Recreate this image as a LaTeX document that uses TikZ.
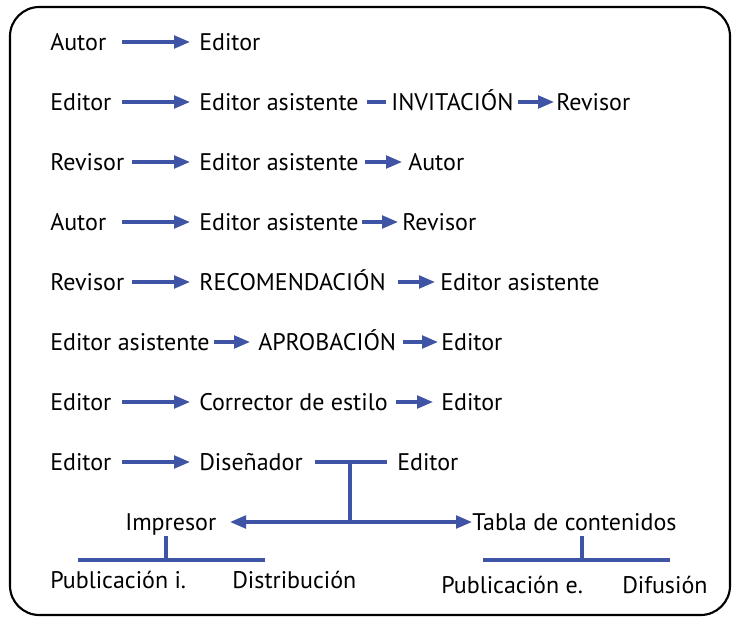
\documentclass[tikz,border=0pt]{standalone}
\usepackage{fontspec}
\setmainfont{PT Sans}
\usetikzlibrary{arrows.meta,calc}
\definecolor{arrowblue}{RGB}{63,84,164}
\tikzset{
  txt/.style={inner sep=0pt, anchor=west, text height=12.5pt, text depth=0pt, font=\fontsize{18}{20}\selectfont},
  arr/.style={draw=arrowblue, line width=2.4pt, -{Triangle[length=12pt,width=9.5pt]}},
  ln/.style={draw=arrowblue, line width=2.4pt},
}
\begin{document}
\begin{tikzpicture}[x=0.75pt,y=-0.75pt]
\useasboundingbox (0,0) rectangle (742,624);
\draw[line width=1.6pt, rounded corners=22pt] (10,7) rectangle (730,615);
% row 1
\node[txt] (a1) at (50,42) {Autor};
\node[txt] (b1) at (199,42) {Editor};
\draw[arr] ($(b1.west)+(-77,0)$) -- ($(b1.west)+(-9,0)$);
% row 2
\node[txt] (a2) at (50,102) {Editor};
\node[txt] (b2) at (199,102) {Editor asistente};
\node[txt] (c2) at (391,102) {INVITACIÓN};
\node[txt] (d2) at (556,102) {Revisor};
\draw[arr] ($(b2.west)+(-77,0)$) -- ($(b2.west)+(-9,0)$);
\draw[ln] ($(c2.west)+(-24,0)$) -- ($(c2.west)+(-5,0)$);
\draw[arr] ($(d2.west)+(-38,0)$) -- ($(d2.west)+(-2,0)$);
% row 3
\node[txt] (a3) at (50,162) {Revisor};
\node[txt] (b3) at (199,162) {Editor asistente};
\node[txt] (c3) at (408,162) {Autor};
\draw[arr] ($(b3.west)+(-67,0)$) -- ($(b3.west)+(-9,0)$);
\draw[arr] ($(c3.west)+(-43,0)$) -- ($(c3.west)+(-6,0)$);
% row 4
\node[txt] (a4) at (50,222) {Autor};
\node[txt] (b4) at (199,222) {Editor asistente};
\node[txt] (c4) at (402,222) {Revisor};
\draw[arr] ($(b4.west)+(-77,0)$) -- ($(b4.west)+(-9,0)$);
\draw[arr] ($(c4.west)+(-40,0)$) -- ($(c4.west)+(-4,0)$);
% row 5
\node[txt] (a5) at (50,282) {Revisor};
\node[txt] (b5) at (199,282) {RECOMENDACIÓN};
\node[txt] (c5) at (440,282) {Editor asistente};
\draw[arr] ($(b5.west)+(-67,0)$) -- ($(b5.west)+(-9,0)$);
\draw[arr] ($(c5.west)+(-42,0)$) -- ($(c5.west)+(-5,0)$);
% row 6
\node[txt] (a6) at (50,342) {Editor asistente};
\node[txt] (b6) at (258,342) {APROBACIÓN};
\node[txt] (c6) at (441,342) {Editor};
\draw[arr] ($(b6.west)+(-44,0)$) -- ($(b6.west)+(-8,0)$);
\draw[arr] ($(c6.west)+(-38,0)$) -- ($(c6.west)+(-3,0)$);
% row 7
\node[txt] (a7) at (50,402) {Editor};
\node[txt] (b7) at (199,402) {Corrector de estilo};
\node[txt] (c7) at (441,402) {Editor};
\draw[arr] ($(b7.west)+(-77,0)$) -- ($(b7.west)+(-9,0)$);
\draw[arr] ($(c7.west)+(-45,0)$) -- ($(c7.west)+(-8,0)$);
% row 8
\node[txt] (a8) at (50,462) {Editor};
\node[txt] (b8) at (199,462) {Diseñador};
\node[txt] (c8) at (397,462) {Editor};
\draw[arr] ($(b8.west)+(-77,0)$) -- ($(b8.west)+(-9,0)$);
\draw[ln] ($(c8.west)+(-82,0)$) -- ($(c8.west)+(-10,0)$);
% branching
\coordinate (j) at (350,462);
\coordinate (k) at (350,522);
\node[txt] (imp) at (125,522) {Impresor};
\node[txt] (tab) at (472,522) {Tabla de contenidos};
\draw[ln] (j) -- (k);
\draw[arr] (k) -- ($(imp.west)+(105,0)$);
\draw[arr] (k) -- (tab.west);
% Impresor subtree
\node[txt] (pi) at (50,580) {Publicación i.};
\node[txt] (di) at (232,580) {Distribución};
\coordinate (ia) at (166,560);
\draw[ln] (166,536) -- (ia);
\draw[ln] (78,560) -- (265,560);
% Tabla subtree
\node[txt] (pe) at (441,585) {Publicación e.};
\node[txt] (df) at (622,585) {Difusión};
\coordinate (ta) at (582,560);
\draw[ln] (582,536) -- (ta);
\draw[ln] (483,560) -- (670,560);
\end{tikzpicture}
\end{document}
